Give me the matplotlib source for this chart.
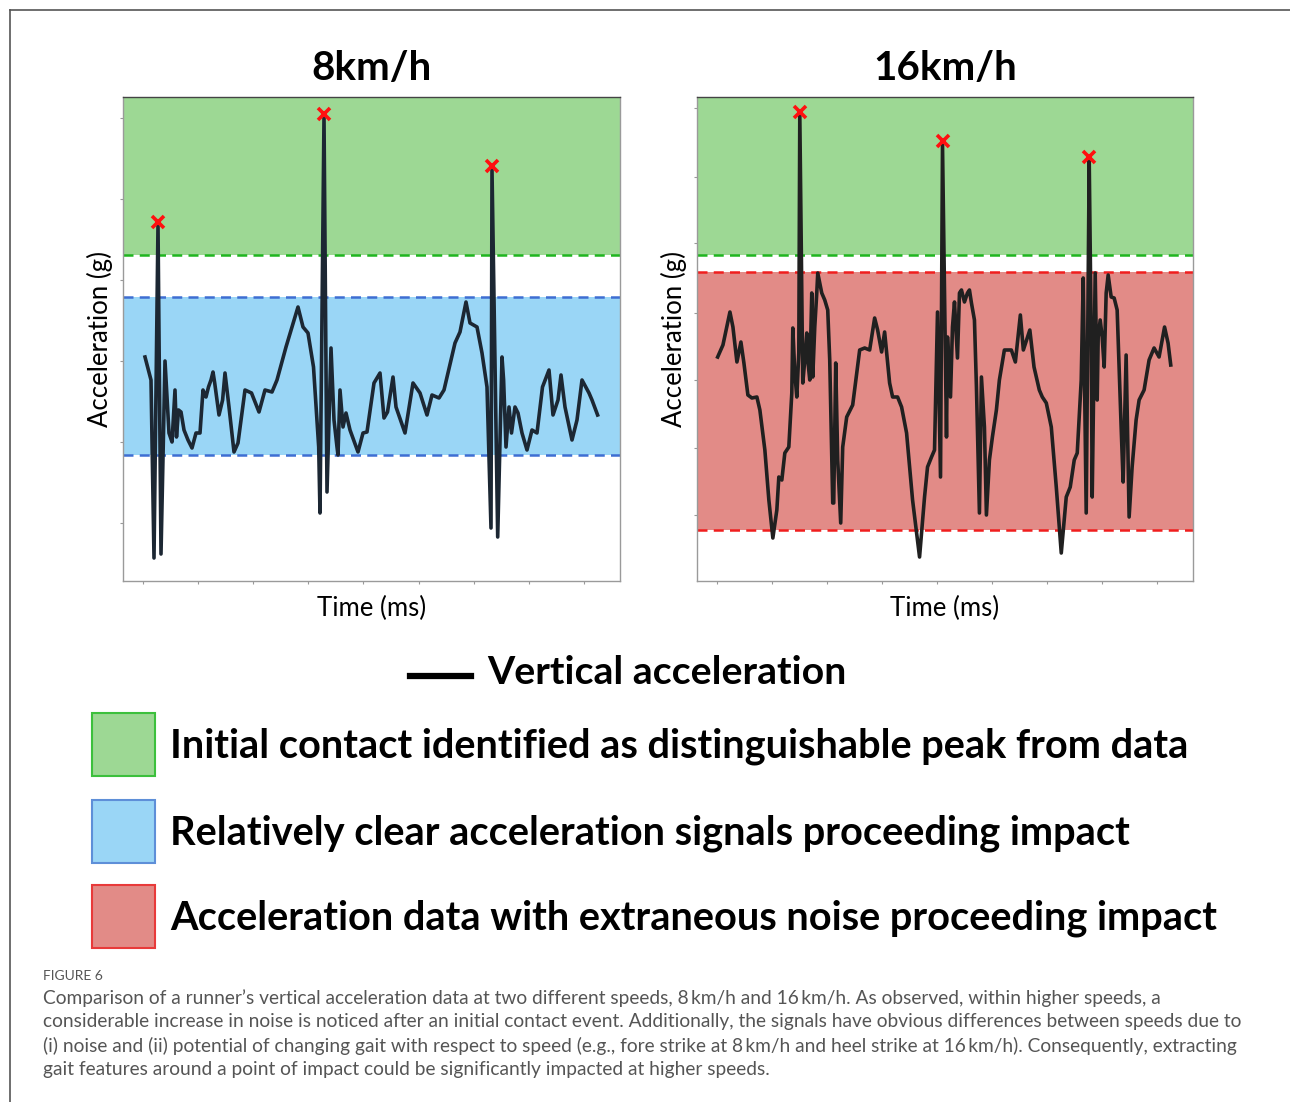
import numpy as np
import matplotlib
matplotlib.use("Agg")
import matplotlib.pyplot as plt
from matplotlib.patches import Rectangle
from matplotlib.lines import Line2D

# time (ms) and vertical acceleration (g)
t_8 = [22, 28, 31, 35, 38, 42, 46, 49, 52, 53.5, 55.5, 58, 61, 65, 69, 73, 77, 80, 83, 85.5,
       88, 90, 91.7, 96, 99.6, 102, 106, 111, 115, 122, 128.5, 136, 142, 149, 154, 163, 175, 180,
       185, 190.5, 195.7, 197, 201, 204, 208, 211, 214, 215, 217, 220, 223, 227, 235, 240, 244,
       251, 257, 261, 264.5, 270, 273, 282, 290, 297, 304, 309, 316, 321, 332, 337, 343, 347,
       354, 359, 364, 368, 369, 374.7, 379, 380.6, 383, 386, 388.5, 392, 395, 399, 404, 409,
       414, 419.5, 426, 430, 435, 438, 442, 449, 454, 459, 466, 469, 474.6]
acc_8 = [2.24, 2.01, 0.23, 3.56, 0.27, 2.20, 1.48, 1.39, 1.91, 1.44, 1.71, 1.69, 1.51, 1.41, 1.33,
         1.48, 1.48, 1.91, 1.84, 1.94, 2.01, 2.09, 1.98, 1.66, 1.81, 2.08, 1.74, 1.29, 1.38, 1.91,
         1.88, 1.69, 1.91, 1.89, 2.01, 2.34, 2.74, 2.54, 2.48, 2.14, 1.34, 0.68, 4.64, 0.89, 2.33,
         1.61, 1.34, 1.26, 1.91, 1.54, 1.68, 1.51, 1.29, 1.48, 1.49, 1.98, 2.08, 1.63, 1.69, 2.04,
         1.74, 1.48, 1.98, 1.88, 1.66, 1.86, 1.83, 1.91, 2.38, 2.49, 2.79, 2.58, 2.54, 2.28, 1.94,
         0.53, 4.11, 0.44, 2.24, 2.01, 1.34, 1.74, 1.48, 1.74, 1.68, 1.48, 1.31, 1.51, 1.48, 1.94,
         2.11, 1.66, 1.81, 2.06, 1.74, 1.41, 1.61, 2.01, 1.88, 1.81, 1.66]

t_16 = [20.7, 26, 33, 36, 40, 44, 47, 51, 55, 60, 63, 68, 72, 76, 80, 82, 85, 88, 92, 95, 96, 98,
        100, 102, 103, 106, 108, 110, 111, 113, 115, 116, 118, 120, 121, 125, 128, 131, 133, 136,
        137, 139, 141, 144, 146, 150, 156, 163, 168, 173, 178, 181, 185, 188, 193, 196, 201, 205,
        210, 216, 223, 228, 231, 235, 238, 241, 244, 246, 250, 251, 254, 256, 258, 261, 263, 265,
        268, 271, 273, 275, 278, 280, 283, 285, 288, 290, 293, 296, 300, 303, 308, 315, 319, 324,
        327, 333.5, 337.7, 343, 346, 350, 355, 360, 365, 370, 374, 378, 381, 385, 387, 390, 393,
        395, 396, 399, 401, 402, 404, 406, 408, 410, 412, 415, 418, 421, 425, 427, 430, 433, 436,
        440, 443, 448, 453, 458, 463, 468.5, 472, 474.7]
acc_16 = [2.24, 2.36, 2.69, 2.54, 2.19, 2.39, 2.18, 1.86, 1.83, 1.84, 1.71, 1.31, 0.81, 0.43, 0.71,
          1.04, 1.01, 1.28, 1.34, 1.88, 2.53, 2.08, 1.84, 2.28, 4.66, 1.98, 2.21, 2.48, 2.21, 2.01,
          2.88, 2.04, 2.54, 2.88, 3.08, 2.88, 2.81, 2.71, 2.21, 0.78, 0.78, 2.18, 1.21, 0.58, 1.34,
          1.64, 1.76, 2.31, 2.33, 2.31, 2.63, 2.51, 2.29, 2.49, 1.98, 1.84, 1.84, 1.74, 1.48, 0.81,
          0.24, 0.84, 1.14, 1.24, 1.31, 2.69, 1.04, 4.36, 1.44, 2.44, 1.84, 2.54, 2.79, 2.23, 2.88,
          2.91, 2.79, 2.88, 2.91, 2.78, 2.61, 1.94, 0.68, 2.04, 1.54, 0.66, 1.21, 1.44, 1.71, 2.01,
          2.31, 2.31, 2.19, 2.66, 2.31, 2.51, 2.14, 1.91, 1.84, 1.78, 1.54, 0.94, 0.28, 0.84, 0.94,
          1.21, 1.28, 2.01, 3.03, 0.68, 4.21, 2.44, 0.84, 3.08, 1.81, 2.44, 2.61, 2.44, 2.14, 2.88,
          3.06, 2.84, 2.83, 2.71, 1.54, 0.99, 2.26, 0.64, 1.14, 1.61, 1.81, 1.91, 2.21, 2.33, 2.24,
          2.54, 2.38, 2.16]

# initial contact peaks (marked with a red x)
peaks_t_8 = [35, 201, 369]
peaks_acc_8 = [3.59, 4.67, 4.15]
peaks_t_16 = [103, 246, 393]
peaks_acc_16 = [4.69, 4.40, 4.24]

# thresholds (g)
contact_level = 3.26          # green zone starts here (both speeds)
clear_band_8 = (1.26, 2.84)   # blue zone, 8 km/h
noise_band_16 = (0.51, 3.09)  # red zone, 16 km/h

titles = ["8km/h", "16km/h"]
legend_labels = ["Vertical acceleration",
                 "Initial contact identified as distinguishable peak from data",
                 "Relatively clear acceleration signals proceeding impact",
                 "Acceleration data with extraneous noise proceeding impact"]

caption_head = "FIGURE 6"
caption = ("Comparison of a runner\u2019s vertical acceleration data at two different speeds, 8\u2009km/h and 16\u2009km/h. As observed, within higher speeds, a\n"
           "considerable increase in noise is noticed after an initial contact event. Additionally, the signals have obvious differences between speeds due to\n"
           "(i) noise and (ii) potential of changing gait with respect to speed (e.g., fore strike at 8\u2009km/h and heel strike at 16\u2009km/h). Consequently, extracting\n"
           "gait features around a point of impact could be significantly impacted at higher speeds.")

GREEN_FILL, GREEN_LINE = "#9dd894", "#1fb51f"
BLUE_FILL, BLUE_LINE = "#9ad6f6", "#3e6ed2"
RED_FILL, RED_LINE = "#e28b87", "#f01e1e"

plt.rcParams['font.family'] = ['Lato', 'DejaVu Sans']

fig = plt.figure(figsize=(12.9, 11.02), dpi=100)
W, H = 1290, 1102


def ax_rect(x0, y0, x1, y1):
    return [x0 / W, 1 - y1 / H, (x1 - x0) / W, (y1 - y0) / H]


def draw_panel(ax, t, acc, pk_t, pk_acc, band, band_fill, band_line, xticks, yticks, title, color):
    ymax = 4.84
    ax.set_xlim(0, 497)
    ax.set_ylim(0, ymax)
    ax.axhspan(contact_level, ymax, color=GREEN_FILL, lw=0, zorder=0)
    ax.axhspan(band[0], band[1], color=band_fill, lw=0, zorder=0)
    ax.axhline(contact_level, color=GREEN_LINE, ls=(0, (4, 2.5)), lw=1.8, zorder=1)
    for lvl in band:
        ax.axhline(lvl, color=band_line, ls=(0, (4, 2.5)), lw=1.8, zorder=1)
    ax.plot(t, acc, color=color, lw=2.6, zorder=3, solid_joinstyle='round')
    ax.plot(pk_t, pk_acc, ls='none', marker='x', ms=8, mew=2.6, color='#ff1010', zorder=4)
    ax.set_xticks(xticks)
    ax.set_yticks(yticks)
    ax.tick_params(length=2.5, width=0.8, color='#999999', labelbottom=False, labelleft=False)
    for side, sp in ax.spines.items():
        sp.set_color('#444444' if side == 'top' else '#9a9a9a')
        sp.set_linewidth(1.0)
    ax.set_title(title, fontsize=29, fontweight='bold', pad=12)
    ax.set_xlabel("Time (ms)", fontsize=18.5, labelpad=8)
    ax.set_ylabel("Acceleration (g)", fontsize=18.5, labelpad=5)


ax1 = fig.add_axes(ax_rect(123, 97, 620, 581))
ax2 = fig.add_axes(ax_rect(697, 97, 1193, 581))

xt = 20 + 55.1 * np.arange(9)
draw_panel(ax1, t_8, acc_8, peaks_t_8, peaks_acc_8, clear_band_8, BLUE_FILL, BLUE_LINE,
           xt, [0.58, 1.39, 2.20, 3.01, 3.82, 4.63], titles[0], '#1c2733')
draw_panel(ax2, t_16, acc_16, peaks_t_16, peaks_acc_16, noise_band_16, RED_FILL, RED_LINE,
           xt, [0.66, 1.33, 2.01, 2.68, 3.38, 4.04, 4.73], titles[1], '#202020')

# legend drawn by hand in figure pixels
fig.add_artist(Line2D([410 / W, 471 / W], [1 - 676 / H, 1 - 676 / H], color='black', lw=4.5))
fig.text(487 / W, 1 - 673 / H, legend_labels[0], fontsize=28.3, fontweight='bold', va='center')
boxes = [(713, GREEN_FILL, '#3cc03c'), (800, BLUE_FILL, '#5e8fd8'), (885, RED_FILL, '#e83a3a')]
for (ytop, fc, ec), label in zip(boxes, legend_labels[1:]):
    fig.add_artist(Rectangle((92 / W, 1 - (ytop + 63) / H), 63 / W, 63 / H, facecolor=fc,
                             edgecolor=ec, lw=1.5, transform=fig.transFigure))
    fig.text(170 / W, 1 - (ytop + 33) / H, label, fontsize=28.6, fontweight='bold', va='center')

# caption
fig.text(43 / W, 1 - 976 / H, caption_head, fontsize=10, color='#555555', va='center')
fig.text(43 / W, 1 - 989 / H, caption, fontsize=13.75, color='#555555', va='top',
         linespacing=1.45)

# page frame
fig.add_artist(Line2D([10 / W, 1.0], [1 - 10 / H, 1 - 10 / H], color='#555555', lw=1.2))
fig.add_artist(Line2D([10 / W, 10 / W], [1 - 10 / H, 0], color='#555555', lw=1.2))

fig.savefig("out.png", dpi=100, facecolor='white')
